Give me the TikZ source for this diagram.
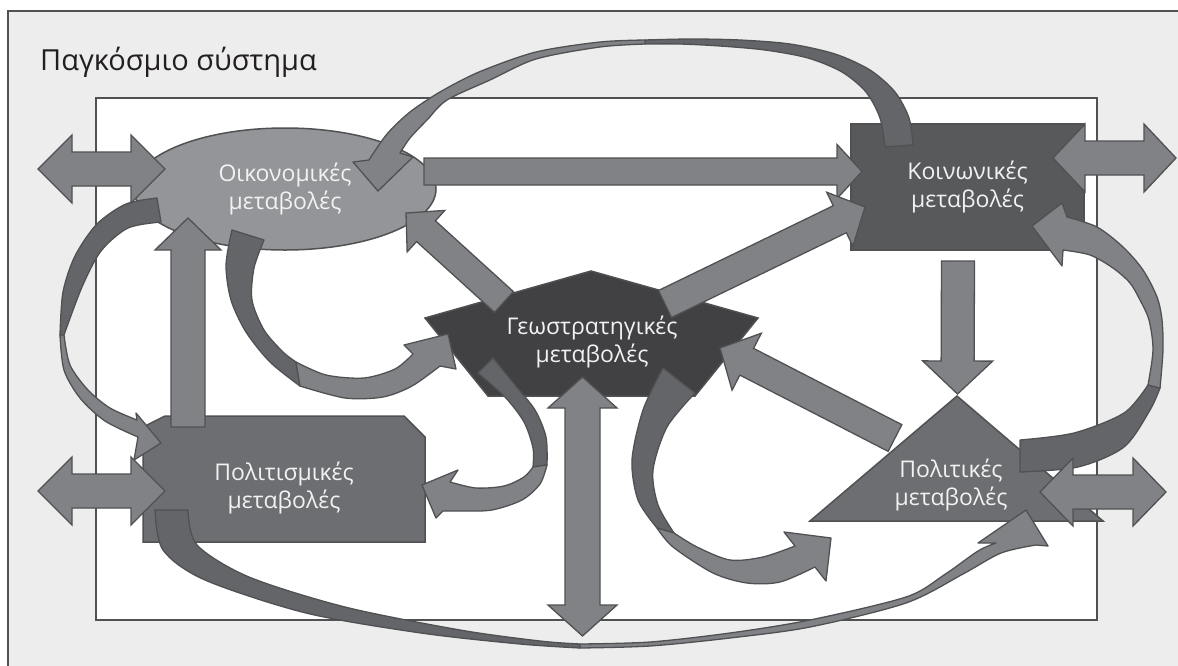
\documentclass[tikz,border=0pt]{standalone}
\usepackage{fontspec}
\setmainfont{Open Sans}
\usetikzlibrary{calc,shapes.geometric}

\definecolor{framegray}{HTML}{EDEDED}
\definecolor{linegray}{HTML}{505153}
\definecolor{arrowgray}{HTML}{808285}
\definecolor{backgray}{HTML}{646568}
\definecolor{ecogray}{HTML}{939598}
\definecolor{socgray}{HTML}{58595B}
\definecolor{geogray}{HTML}{414042}
\definecolor{midgray}{HTML}{6D6E71}
\definecolor{textwhite}{HTML}{F2F2F2}
\definecolor{titleblack}{HTML}{231F20}

\tikzset{
  boxline/.style={draw=linegray, line width=1.5pt},
  arrowfill/.style={fill=arrowgray, draw=linegray, line width=1.3pt, line join=miter},
  ribbonback/.style={fill=backgray, draw=linegray, line width=1.3pt, line join=round},
  ribbonfront/.style={fill=arrowgray, draw=linegray, line width=1.3pt, line join=round},
  nodetext/.style={text=textwhite, align=center, font=\fontsize{23}{28}\selectfont},
}

% block arrow: tail, tip, half shaft, half head, head length
\newcommand{\straightarr}[5]{%
  \coordinate (hb) at ($(#2)!#5!(#1)$);
  \draw[arrowfill] ($(#1)!#3!90:(#2)$) -- ($(hb)!#3!-90:(#1)$) -- ($(hb)!#4!-90:(#1)$) -- (#2)
    -- ($(hb)!#4!90:(#1)$) -- ($(hb)!#3!90:(#1)$) -- ($(#1)!#3!-90:(#2)$) -- cycle;}
\newcommand{\doublearr}[5]{%
  \coordinate (ha) at ($(#1)!#5!(#2)$);
  \coordinate (hb) at ($(#2)!#5!(#1)$);
  \draw[arrowfill] (#1) -- ($(ha)!#4!90:(#2)$) -- ($(ha)!#3!90:(#2)$) -- ($(hb)!#3!-90:(#1)$)
    -- ($(hb)!#4!-90:(#1)$) -- (#2) -- ($(hb)!#4!90:(#1)$) -- ($(hb)!#3!90:(#1)$)
    -- ($(ha)!#3!-90:(#2)$) -- ($(ha)!#4!-90:(#2)$) -- cycle;}

\begin{document}
\begin{tikzpicture}[x=1pt,y=-1pt]
\useasboundingbox (0,0) rectangle (1178,665);
\clip (0,0) rectangle (1178,665);

% frames
\fill[white] (0,0) rectangle (1178,665);
\fill[framegray] (8,11) rectangle (1190,680);
\draw[linegray, line width=2.5pt] (8,680) -- (8,11) -- (1190,11);
\draw[fill=white, draw=linegray, line width=2pt] (96,98) rectangle (1097,620);
\node[anchor=base west, inner sep=0pt, font=\fontsize{29}{35}\selectfont, text=titleblack] (title) at (40,70) {Παγκόσμιο σύστημα};

% the five kinds of change
\node[ellipse, boxline, fill=ecogray, minimum width=302pt, minimum height=122pt, inner sep=0pt, nodetext] (eco) at (285,189) {Οικονομικές\\μεταβολές};
\node[rectangle, boxline, fill=socgray, minimum width=233pt, minimum height=126pt, inner sep=0pt, nodetext] (soc) at (967.5,187) {Κοινωνικές\\μεταβολές};
\draw[boxline, fill=geogray] (591,271) -- (758,318) -- (695,396) -- (488,396) -- (425,318) -- cycle;
\node[nodetext] (geo) at (592,342) {Γεωστρατηγικές\\μεταβολές};
\draw[boxline, fill=midgray] (143,427) -- (165,416) -- (404,416) -- (425,437) -- (425,542) -- (143,542) -- cycle;
\node[nodetext] (cult) at (284,488) {Πολιτισμικές\\μεταβολές};
\draw[boxline, fill=midgray] (957,396) -- (1103,521) -- (810,521) -- cycle;
\node[nodetext] (pol) at (951,485) {Πολιτικές\\μεταβολές};

% curved arrows
% soc -> eco, over the top
\draw[ribbonback] plot[smooth] coordinates {(913,145) (909,118) (895,92) (870,70) (835,54) (790,44) (740,40) (690,39) (645,40)}
  -- plot[smooth] coordinates {(645,44) (680,44) (720,46) (765,50) (808,58) (842,72) (866,92) (880,118) (885,147)} -- cycle;
\draw[ribbonfront] plot[smooth] coordinates {(645,40) (600,42) (536,52) (479,72) (440,92) (410,112) (387,134) (369,160)}
  -- (353,162) -- (378,191) -- (413,157)
  -- plot[smooth] coordinates {(400,153) (410,138) (427,120) (447,100) (490,80) (536,59) (600,47) (645,44)} -- cycle;
% eco -> cult
\draw[ribbonback] plot[smooth] coordinates {(157,198) (126,204) (97,224) (75,256) (63,292) (60,335)}
  -- plot[smooth] coordinates {(64,335) (82,287) (101,251) (128,228) (161,222)} -- cycle;
\draw[ribbonfront] plot[smooth] coordinates {(60,335) (64,370) (80,398) (105,421) (138,437)}
  -- (134,460) -- (161,443) -- (136,413)
  -- plot[smooth] coordinates {(137,420) (110,408) (88,390) (70,365) (64,335)} -- cycle;
% eco -> geo
\draw[ribbonback] plot[smooth] coordinates {(232,230) (226,265) (231,300) (246,332) (270,362) (300,386)}
  -- plot[smooth] coordinates {(296,362) (283,352) (264,330) (252,300) (254,268) (264,240)} -- cycle;
\draw[ribbonfront] plot[smooth] coordinates {(300,386) (345,398) (383,397) (412,386) (440,366)}
  -- (456,369) -- (448,334) -- (404,345)
  -- plot[smooth] coordinates {(413,354) (395,369) (364,378) (326,375) (296,362)} -- cycle;
% geo -> cult
\draw[ribbonback] plot[smooth] coordinates {(493,358) (515,385) (535,410) (546,437) (547,465)}
  -- plot[smooth] coordinates {(533,467) (533,448) (524,422) (505,397) (478,373)} -- cycle;
\draw[ribbonfront] plot[smooth] coordinates {(547,465) (540,484) (522,500) (492,510) (462,511) (443,511)}
  -- (436,518) -- (422,485) -- (458,470)
  -- plot[smooth] coordinates {(450,482) (476,488) (504,486) (524,477) (533,467)} -- cycle;
% geo -> pol
\draw[ribbonback] plot[smooth] coordinates {(663,368) (643,410) (632,460) (638,500) (657,528)}
  -- plot[smooth] coordinates {(674,533) (658,505) (653,470) (667,427) (695,393)} -- cycle;
\draw[ribbonfront] plot[smooth] coordinates {(657,528) (673,547) (713,573) (747,583) (780,582) (815,567)}
  -- (826,581) -- (831,538) -- (784,532)
  -- plot[smooth] coordinates {(795,546) (763,557) (730,560) (697,547) (674,533)} -- cycle;
% pol -> soc
\draw[ribbonback] plot[smooth] coordinates {(1020,440) (1074,433) (1124,413) (1148,385)}
  -- plot[smooth] coordinates {(1160,388) (1150,410) (1124,447) (1078,467) (1020,472)} -- cycle;
\draw[ribbonfront] plot[smooth] coordinates {(1160,388) (1163,350) (1162,320) (1157,297) (1143,270) (1123,247) (1097,227) (1067,217)}
  -- (1062,203) -- (1032,226) -- (1062,266)
  -- plot[smooth] coordinates {(1063,250) (1090,255) (1113,268) (1130,283) (1140,300) (1149,320) (1153,350) (1148,385)} -- cycle;
% cult -> pol, along the bottom
\draw[ribbonback] plot[smooth] coordinates {(155,510) (163,550) (205,580) (306,613) (421,633) (520,644) (580,648)}
  -- plot[smooth] coordinates {(580,644) (540,641) (460,630) (345,607) (249,577) (197,545) (188,510)} -- cycle;
\draw[ribbonfront] plot[smooth] coordinates {(580,648) (650,646) (730,638) (810,627) (906,603) (963,574) (1001,553) (1036,545)}
  -- (1048,546) -- (1026,510) -- (978,543)
  -- plot[smooth] coordinates {(996,543) (978,551) (944,575) (906,597) (810,620) (730,633) (650,642) (580,644)} -- cycle;

% straight arrows
\coordinate (es1) at (424,171.5); \coordinate (es2) at (862,171.5);
\coordinate (ce1) at (188,427);   \coordinate (ce2) at (188,218);
\coordinate (ge1) at (504,302);   \coordinate (ge2) at (406,213);
\coordinate (gs1) at (665,304);   \coordinate (gs2) at (865,207);
\coordinate (pg1) at (895,438);   \coordinate (pg2) at (720,348);
\coordinate (sp1) at (958,261);   \coordinate (sp2) at (957.5,394);
\straightarr{es1}{es2}{13.5pt}{27pt}{25pt}
\straightarr{ce1}{ce2}{17pt}{33pt}{32pt}
\straightarr{ge1}{ge2}{14pt}{28pt}{27pt}
\straightarr{gs1}{gs2}{15pt}{30pt}{28pt}
\straightarr{pg1}{pg2}{15pt}{32pt}{30pt}
\straightarr{sp1}{sp2}{16.5pt}{35pt}{33pt}

% links with the world system
\coordinate (l1) at (38,169);    \coordinate (l2) at (165,169);
\coordinate (l3) at (38,491);    \coordinate (l4) at (165,491);
\coordinate (r1) at (1053,158);  \coordinate (r2) at (1176,158);
\coordinate (r3) at (1040,492);  \coordinate (r4) at (1166,492);
\coordinate (b1) at (582.5,377); \coordinate (b2) at (582.5,636);
\doublearr{l1}{l2}{17pt}{34pt}{34pt}
\doublearr{l3}{l4}{17pt}{34pt}{34pt}
\doublearr{r1}{r2}{17pt}{34pt}{32pt}
\doublearr{r3}{r4}{17pt}{34pt}{33pt}
\doublearr{b1}{b2}{17.5pt}{34.5pt}{31pt}
\end{tikzpicture}
\end{document}
